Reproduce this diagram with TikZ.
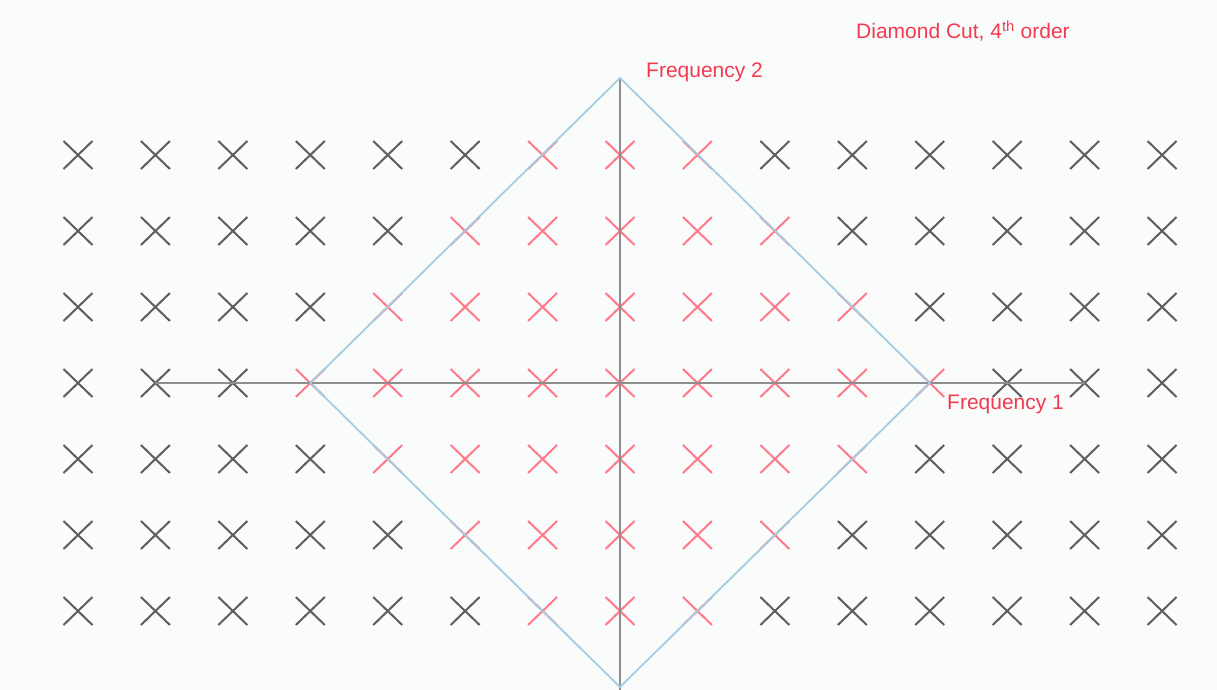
\documentclass[tikz,border=0pt]{standalone}
\usepackage{fontspec}
\setmainfont{Liberation Sans}
\usetikzlibrary{shapes.misc}
\definecolor{bg}{HTML}{FAFCFB}
\definecolor{crossgray}{HTML}{5E5E5E}
\definecolor{crossred}{HTML}{FF7A8A}
\definecolor{axisgray}{HTML}{8E8E8E}
\definecolor{diamblue}{HTML}{A3CDE0}
\definecolor{labelred}{HTML}{F23A50}
\tikzset{
  xmark/.style={cross out, draw=crossgray, line width=2pt, minimum width=27pt, minimum height=26pt, inner sep=0pt},
  xred/.style={xmark, draw=crossred},
  axis/.style={draw=axisgray, line width=2.6pt},
  diam/.style={draw=diamblue, line width=1.8pt},
  lbl/.style={text=labelred, font=\fontsize{21}{24}\selectfont, anchor=west, inner sep=0pt}
}
\begin{document}
\begin{tikzpicture}[x=1pt,y=-1pt]
\useasboundingbox[fill=bg] (0,0) rectangle (1217,690);
% grid of crosses
\foreach \i in {0,...,14}{
  \foreach \j in {0,...,6}{
    \pgfmathtruncatemacro{\di}{abs(\i-7)+abs(\j-3)}
    \ifnum\di>4
      \node[xmark] (c-\i-\j) at ({78+77.43*\i},{155+76*\j}) {};
    \else
      \node[xred] (c-\i-\j) at ({78+77.43*\i},{155+76*\j}) {};
    \fi
  }
}
% diamond corners
\coordinate (top) at (620,78);
\coordinate (bot) at (620,690);
\coordinate (dbot) at (620,687);
\coordinate (left) at (c-3-3.center);
\coordinate (right) at (c-11-3.center);
% axes
\draw[axis] (c-1-3.center) -- (c-13-3.center);
\draw[axis] (top) -- (bot);
% diamond
\draw[diam] (top) -- (right) -- (dbot) -- (left) -- cycle;
% labels
\node[lbl] (f2) at (646,72) {Frequency 2};
\node[lbl] (f1) at (947,404) {Frequency 1};
\node[lbl] (title) at (856,31) {Diamond Cut, 4\textsuperscript{th} order};
\end{tikzpicture}
\end{document}
